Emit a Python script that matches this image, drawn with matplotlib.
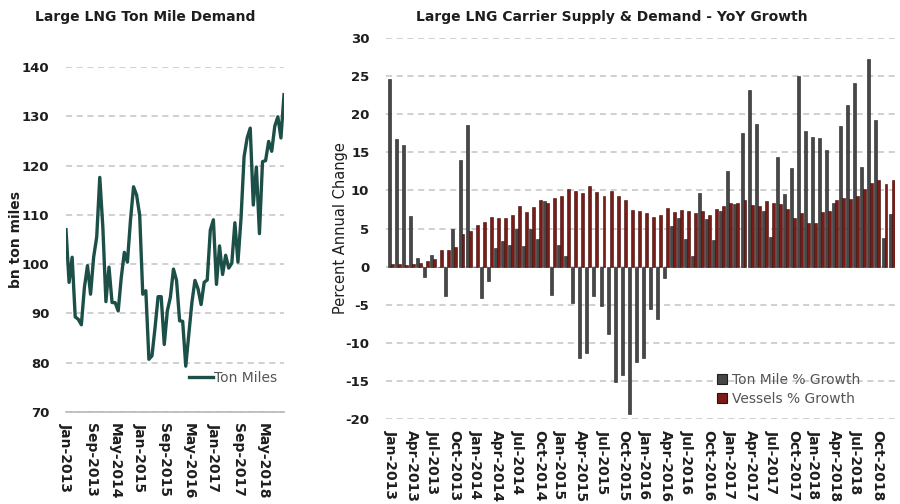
import matplotlib
matplotlib.use("Agg")
import matplotlib.pyplot as plt
from matplotlib.patches import Patch
from matplotlib.lines import Line2D
import numpy as np

plt.rcParams['font.family'] = ['DejaVu Sans']
plt.rcParams['axes.unicode_minus'] = False

# ---------------- data ----------------
months = [f"{m}-{y}" for y in range(2013, 2019)
          for m in ["Jan", "Feb", "Mar", "Apr", "May", "Jun",
                    "Jul", "Aug", "Sep", "Oct", "Nov", "Dec"]]

ton_miles = [107.0, 96.3, 101.4, 89.3, 88.8, 87.7, 95.3, 99.7, 93.9, 101.4,
             105.5, 117.6, 107.5, 92.4, 99.4, 92.2, 92.2, 90.5, 97.3, 102.4,
             100.4, 108.9, 115.7, 114.0, 109.9, 93.9, 94.6, 80.7, 81.4, 87.1,
             93.4, 93.4, 83.7, 90.5, 93.3, 99.0, 96.7, 88.5, 88.4, 79.3,
             85.8, 92.2, 96.7, 95.0, 91.8, 96.3, 96.8, 106.9, 109.0, 95.9,
             103.7, 97.9, 101.8, 99.2, 100.2, 108.4, 100.4, 109.3, 121.8, 125.6,
             127.6, 112.0, 119.7, 106.2, 120.8, 121.0, 124.9, 122.9, 128.0, 129.9,
             125.6, 134.4]

ton_mile_growth = [24.6, 16.8, 15.9, 6.6, 1.1, -1.3, 1.5, 0.0, -3.9, 5.0,
                   14.0, 18.6, 0.0, -4.1, -1.9, 2.5, 3.3, 2.9, 4.9, 2.7,
                   5.0, 3.6, 8.6, -3.7, 2.8, 1.4, -4.8, -12.0, -11.4, -3.9,
                   -5.2, -8.9, -15.1, -14.2, -19.3, -12.5, -12.0, -5.6, -6.9, -1.5,
                   5.3, 6.4, 3.6, 1.4, 9.6, 6.3, 3.5, 7.3, 12.6, 8.2,
                   17.5, 23.2, 18.7, 7.3, 3.9, 14.4, 9.5, 13.0, 25.0, 17.8,
                   17.0, 16.9, 15.3, 8.4, 18.5, 21.2, 24.1, 13.1, 27.3, 19.3,
                   3.8, 6.9]

vessel_growth = [0.3, 0.3, 0.2, 0.3, 0.5, 0.7, 1.0, 2.2, 2.2, 2.6,
                 4.3, 4.7, 5.5, 5.8, 6.5, 6.4, 6.4, 6.8, 7.9, 7.1,
                 7.8, 8.8, 8.3, 9.0, 9.3, 10.2, 9.9, 9.6, 10.6, 9.8,
                 9.3, 9.9, 9.3, 8.7, 7.4, 7.3, 7.0, 6.5, 6.8, 7.7,
                 7.1, 7.4, 7.3, 7.0, 7.3, 6.8, 7.5, 7.9, 8.3, 8.3,
                 8.7, 8.1, 8.0, 8.6, 8.3, 8.2, 7.6, 6.4, 7.0, 5.7,
                 5.7, 7.1, 7.3, 8.8, 9.0, 8.9, 9.2, 10.2, 11.0, 11.4,
                 10.9, 11.3]

left_tick_labels = ["Jan-2013", "Sep-2013", "May-2014", "Jan-2015", "Sep-2015",
                    "May-2016", "Jan-2017", "Sep-2017", "May-2018"]
right_tick_labels = ["Jan-2013", "Apr-2013", "Jul-2013", "Oct-2013",
                     "Jan-2014", "Apr-2014", "Jul-2014", "Oct-2014",
                     "Jan-2015", "Apr-2015", "Jul-2015", "Oct-2015",
                     "Jan-2016", "Apr-2016", "Jul-2016", "Oct-2016",
                     "Jan-2017", "Apr-2017", "Jul-2017", "Oct-2017",
                     "Jan-2018", "Apr-2018", "Jul-2018", "Oct-2018"]

# ---------------- styling ----------------
W, H = 900, 504
TXT = '#1e1e1e'
GRID = '#c4c4c4'
LINE_C = '#1b4f48'
GRAY_C = '#474747'
RED_C = '#7a1b15'

fig = plt.figure(figsize=(W / 100, H / 100), dpi=100)

x = np.arange(len(months))

# ---- left chart ----
ax1 = fig.add_axes([66 / W, (H - 412) / H, (284 - 66) / W, (412 - 67) / H])
ax1.plot(x, ton_miles, color=LINE_C, lw=2.4, label='Ton Miles', zorder=3)
ax1.set_xlim(0, len(months) - 1)
ax1.set_ylim(70, 140)
ax1.set_yticks(np.arange(70, 141, 10))
ax1.yaxis.grid(True, ls=(0, (4, 3)), color=GRID, lw=1.1)
ax1.set_axisbelow(True)
for s in ['left', 'right', 'top']:
    ax1.spines[s].set_visible(False)
ax1.spines['bottom'].set_color('#b8b8b8')
ax1.spines['bottom'].set_linewidth(1.2)
ax1.set_xticks([months.index(m) for m in left_tick_labels])
ax1.set_xticklabels(left_tick_labels, rotation=270, ha='center', va='top',
                    fontsize=10, fontweight='bold', color=TXT)
ax1.tick_params(axis='x', length=0, pad=8)
ax1.tick_params(axis='y', length=0, pad=12, labelsize=9.5, labelcolor=TXT)
for t in ax1.get_yticklabels():
    t.set_fontweight('bold')
ax1.legend(handles=[Line2D([0], [0], color=LINE_C, lw=2.4)], labels=['Ton Miles'],
           loc='center left', bbox_to_anchor=(182 / W, 1 - 378 / H),
           bbox_transform=fig.transFigure, frameon=False, handlelength=1.7,
           handletextpad=0.1, fontsize=10, labelcolor='#555555', borderpad=0)

fig.text(145 / W, 1 - 17 / H, 'Large LNG Ton Mile Demand', ha='center', va='center',
         fontsize=10, fontweight='bold', color=TXT)
fig.text(16 / W, 1 - 240 / H, 'bn ton miles', rotation=90, ha='center', va='center',
         fontsize=10, fontweight='bold', color=TXT)

# ---- right chart ----
ax2 = fig.add_axes([386 / W, (H - 419) / H, (895 - 386) / W, (419 - 38) / H])
bw = 0.42
ax2.bar(x - 0.21, ton_mile_growth, width=bw, color=GRAY_C, edgecolor='#1f1f1f',
        lw=0.4, zorder=2, label='Ton Mile % Growth')
ax2.bar(x + 0.21, vessel_growth, width=bw, color=RED_C, edgecolor='#3a0b08',
        lw=0.4, zorder=2, label='Vessels % Growth')
ax2.set_xlim(-0.71, -0.71 + 509 / 7.05)
ax2.set_ylim(-20, 30)
ax2.set_yticks(np.arange(-20, 31, 5))
ax2.yaxis.grid(True, ls=(0, (4, 3)), color=GRID, lw=1.1)
ax2.set_axisbelow(True)
for s in ['left', 'right', 'top', 'bottom']:
    ax2.spines[s].set_visible(False)
ax2.set_xticks([months.index(m) for m in right_tick_labels])
ax2.set_xticklabels(right_tick_labels, rotation=270, ha='center', va='top',
                    fontsize=10, fontweight='bold', color=TXT)
ax2.tick_params(axis='x', length=0, pad=8)
ax2.tick_params(axis='y', length=0, pad=12, labelsize=9.5, labelcolor=TXT)
for t in ax2.get_yticklabels():
    t.set_fontweight('bold')

ax2.legend(handles=[Patch(facecolor=GRAY_C, edgecolor='#1f1f1f', lw=0.8),
                    Patch(facecolor=RED_C, edgecolor='#3a0b08', lw=0.8)],
           labels=['Ton Mile % Growth', 'Vessels % Growth'],
           loc='upper left', bbox_to_anchor=(710 / W, 1 - 366 / H),
           bbox_transform=fig.transFigure, frameon=False, handlelength=0.75,
           handleheight=0.75, handletextpad=0.35, fontsize=10, labelcolor='#555555',
           labelspacing=0.35, borderpad=0)

fig.text(612 / W, 1 - 17 / H, 'Large LNG Carrier Supply & Demand - YoY Growth',
         ha='center', va='center', fontsize=10, fontweight='bold', color=TXT)
fig.text(340 / W, 1 - 228 / H, 'Percent Annual Change', rotation=90, ha='center',
         va='center', fontsize=10.5, color=TXT)

fig.savefig('out.png', dpi=100, facecolor='white')
